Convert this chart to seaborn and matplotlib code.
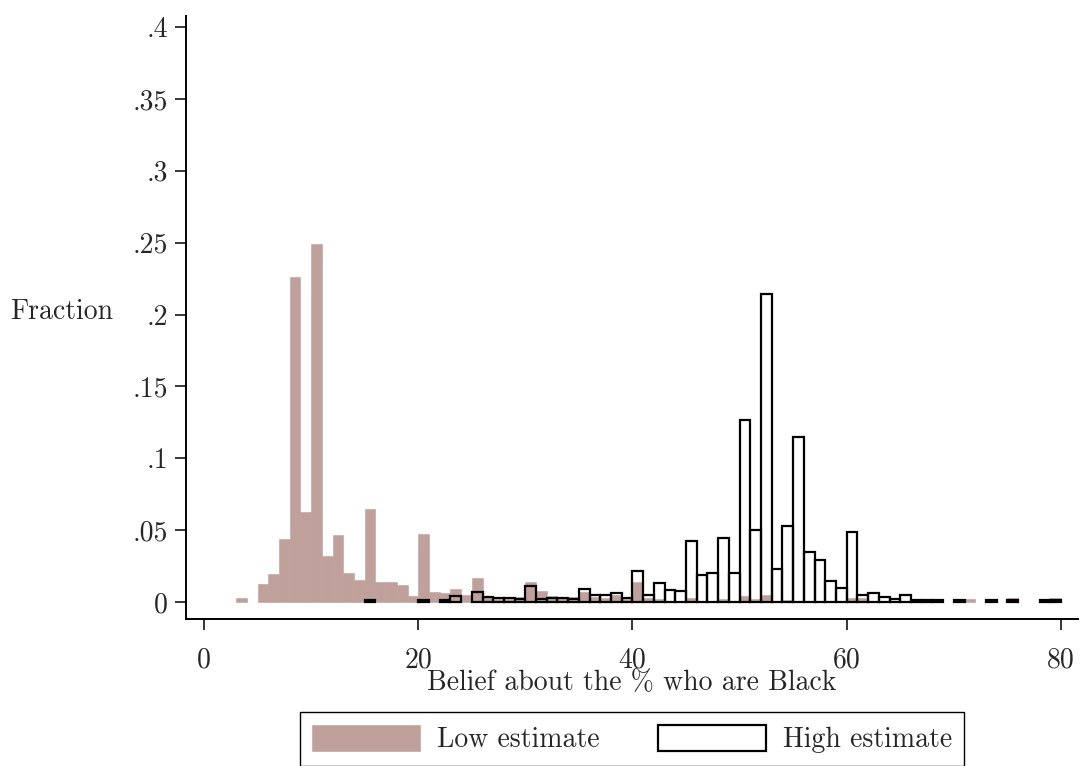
import numpy as np
import pandas as pd
import matplotlib
matplotlib.use("Agg")
import matplotlib.pyplot as plt
import seaborn as sns

# fraction per 1-point bin (bin left edge -> fraction)
low_bins = [3, 5, 6, 7, 8, 9, 10, 11, 12, 13, 14, 15, 16, 17, 18, 19, 20, 21, 22, 23, 24,
            25, 26, 27, 28, 29, 30, 31, 32, 33, 34, 35, 36, 37, 38, 39, 40, 41, 42, 43, 44,
            45, 46, 47, 48, 49, 50, 51, 52, 53, 54, 55, 56, 57, 58, 59, 60, 61, 62, 71, 75, 79]
low_frac = [0.003, 0.0123, 0.0193, 0.0441, 0.2263, 0.0629, 0.2488, 0.032, 0.0465, 0.0202,
            0.0153, 0.0646, 0.0142, 0.0142, 0.0117, 0.0042, 0.0472, 0.0072, 0.0063, 0.0094,
            0.0049, 0.0169, 0.004, 0.002, 0.002, 0.0033, 0.0139, 0.0079, 0.0042, 0.003,
            0.0035, 0.007, 0.0035, 0.003, 0.005, 0.002, 0.0139, 0.003, 0.002, 0.001, 0.001,
            0.003, 0.001, 0.001, 0.002, 0.001, 0.004, 0.002, 0.0047, 0.001, 0.0015, 0.001,
            0.001, 0.001, 0.001, 0.001, 0.003, 0.003, 0.001, 0.002, 0.003, 0.003]

high_bins = [15, 20, 22, 23, 25, 26, 27, 28, 29, 30, 31, 32, 33, 34, 35, 36, 37, 38, 39, 40,
             41, 42, 43, 44, 45, 46, 47, 48, 49, 50, 51, 52, 53, 54, 55, 56, 57, 58, 59, 60,
             61, 62, 63, 64, 65, 66, 67, 68, 70, 73, 75, 78, 79]
high_frac = [0.0012, 0.0012, 0.0012, 0.0045, 0.0067, 0.0033, 0.0025, 0.003, 0.002, 0.0114,
             0.002, 0.003, 0.003, 0.002, 0.0088, 0.005, 0.005, 0.006, 0.003, 0.0218, 0.0046,
             0.0134, 0.0086, 0.0077, 0.0425, 0.0191, 0.0202, 0.0446, 0.02, 0.1268, 0.0502,
             0.2142, 0.0228, 0.053, 0.1148, 0.0346, 0.0295, 0.0144, 0.01, 0.0485, 0.0046,
             0.0062, 0.0035, 0.0023, 0.005, 0.0012, 0.0012, 0.0012, 0.0015, 0.0012, 0.0015,
             0.0012, 0.0012]

x_ticks = [0, 20, 40, 60, 80]
y_ticks = [0, 0.05, 0.1, 0.15, 0.2, 0.25, 0.3, 0.35, 0.4]
y_ticklabels = ["0", ".05", ".1", ".15", ".2", ".25", ".3", ".35", ".4"]

low_color = "#bfa09a"

low_df = pd.DataFrame({"belief": np.array(low_bins) + 0.5, "frac": low_frac})
high_df = pd.DataFrame({"belief": np.array(high_bins) + 0.5, "frac": high_frac})

sns.set_style("ticks")
plt.rcParams["font.family"] = ["cmr10", "DejaVu Serif"]
plt.rcParams["axes.formatter.use_mathtext"] = True

fig = plt.figure(figsize=(10.84, 7.66), dpi=100)
ax = fig.add_axes([186 / 1084, 1 - 619 / 766, (1078 - 186) / 1084, (619 - 16) / 766])

edges = list(range(0, 81))
sns.histplot(data=low_df, x="belief", weights="frac", bins=edges, stat="count",
             color=low_color, alpha=1, edgecolor=low_color, linewidth=0.4,
             label="Low estimate", ax=ax)
sns.histplot(data=high_df, x="belief", weights="frac", bins=edges, stat="count",
             fill=False, color="black", linewidth=1.6, label="High estimate", ax=ax)

ax.set_xlim(-1.68, 81.59)
ax.set_ylim(-0.0118, 0.4077)
ax.set_xticks(x_ticks)
ax.set_xticklabels([str(t) for t in x_ticks])
ax.set_yticks(y_ticks)
ax.set_yticklabels(y_ticklabels)
sns.despine(ax=ax)
for s in ["left", "bottom"]:
    ax.spines[s].set_linewidth(1.4)
    ax.spines[s].set_color("black")
ax.tick_params(axis="both", labelsize=20, length=8, width=1.1, color="black")
ax.tick_params(axis="x", pad=12)
ax.tick_params(axis="y", pad=5)

ax.set_xlabel("Belief about the % who are Black", fontsize=20)
ax.xaxis.set_label_coords(0.5, -0.106)
ax.xaxis.label.set_va("center")
ax.set_ylabel("Fraction", fontsize=20, rotation=0, ha="center", va="center")
ax.yaxis.set_label_coords(-0.139, 0.509)

handles, labels = ax.get_legend_handles_labels()
leg = fig.legend(handles, labels, loc="upper center", bbox_to_anchor=(632 / 1084, 1 - 712 / 766),
                 ncol=2, frameon=True, fancybox=False, edgecolor="black", framealpha=1,
                 fontsize=20, borderpad=0.45, handlelength=3.9, handleheight=1.07,
                 handletextpad=0.6, columnspacing=2.1, borderaxespad=0)
leg.get_frame().set_linewidth(1.0)

# empty bins are not drawn in the original (done after the legend copies the styles)
for p in ax.patches:
    if p.get_height() == 0:
        p.set_visible(False)

fig.savefig("out.png", dpi=100)
